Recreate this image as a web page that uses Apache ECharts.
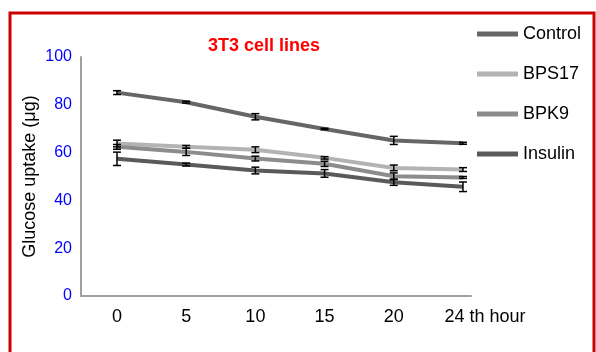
<!DOCTYPE html>
<html>
<head>
<meta charset="utf-8">
<script src="https://cdn.jsdelivr.net/npm/echarts@6/dist/echarts.min.js"></script>
<style>html,body{margin:0;padding:0;background:#fff;}#c{width:596px;height:352px;}</style>
</head>
<body>
<div id="c"></div>
<script>
var categories = ['0', '5', '10', '15', '20', '24 th hour'];
var seriesNames = ['Control', 'BPS17', 'BPK9', 'Insulin'];
var controlValues = [85.1, 81.1, 75.0, 69.9, 65.1, 63.9];
var bps17Values  = [63.8, 62.4, 61.2, 57.8, 53.6, 52.9];
var bpk9Values   = [62.4, 60.3, 57.5, 55.3, 50.1, 49.6];
var insulinValues = [57.4, 55.0, 52.5, 51.3, 47.6, 45.7];
var controlErr = [0.8, 0.4, 1.3, 0.3, 1.7, 0.4];
var bps17Err   = [1.4, 0.6, 1.2, 0.5, 1.2, 0.8];
var bpk9Err    = [1.0, 1.5, 1.0, 1.1, 1.4, 0.4];
var insulinErr = [2.8, 0.6, 1.4, 1.6, 1.3, 2.0];
var yTicks = [0, 20, 40, 60, 80, 100];

var colors = ['#666666', '#b3b3b3', '#8c8c8c', '#5a5a5a'];
var allValues = [controlValues, bps17Values, bpk9Values, insulinValues];
var allErr = [controlErr, bps17Err, bpk9Err, insulinErr];

var chart = echarts.init(document.getElementById('c'), null, {renderer: 'canvas'});
var series = [];
seriesNames.forEach(function (name, s) {
  series.push({
    name: name, type: 'line', symbol: 'none',
    lineStyle: {width: 4, color: colors[s]},
    itemStyle: {color: colors[s]},
    data: allValues[s].map(function (v, i) { return [i, v]; }),
    z: 2 + s
  });
});
var errData = [];
allValues.forEach(function (vals, s) {
  vals.forEach(function (v, i) { errData.push([i, v - allErr[s][i], v + allErr[s][i]]); });
});
series.push({
  type: 'custom', z: 10, silent: true,
  renderItem: function (params, api) {
    var x = api.value(0);
    var lo = api.coord([x, api.value(1)]);
    var hi = api.coord([x, api.value(2)]);
    var w = 4;
    var st = {stroke: '#000', lineWidth: 1.5};
    return {type: 'group', children: [
      {type: 'line', shape: {x1: lo[0], y1: lo[1], x2: hi[0], y2: hi[1]}, style: st},
      {type: 'line', shape: {x1: lo[0] - w, y1: lo[1], x2: lo[0] + w, y2: lo[1]}, style: st},
      {type: 'line', shape: {x1: hi[0] - w, y1: hi[1], x2: hi[0] + w, y2: hi[1]}, style: st}
    ]};
  },
  data: errData
});

chart.setOption({
  animation: false,
  backgroundColor: '#ffffff',
  title: {
    text: '3T3 cell lines', left: 203, top: 32,
    textStyle: {color: '#ff0000', fontWeight: 'bold', fontSize: 18, fontFamily: 'Liberation Sans'}
  },
  legend: {
    orient: 'vertical', left: 472, top: 19, itemGap: 20,
    itemWidth: 41, itemHeight: 5, icon: 'rect',
    data: seriesNames,
    textStyle: {color: '#000', fontSize: 18, lineHeight: 20, fontFamily: 'Liberation Sans'}
  },
  grid: {left: 81, right: 125, top: 57, bottom: 56},
  xAxis: {
    type: 'value', min: -0.52, max: 5.116,
    splitLine: {show: false},
    axisLine: {show: true, onZero: false, lineStyle: {color: '#a0a0a0', width: 2}},
    axisTick: {show: false},
    axisLabel: {
      customValues: categories.map(function (c, i) { return i; }),
      margin: 12,
      fontSize: 18, color: '#000', fontFamily: 'Liberation Sans',
      formatter: function (v) {
        var i = Math.round(v);
        if (i === categories.length - 1) return '{last|' + categories[i] + '}';
        return categories[i];
      },
      rich: {last: {padding: [0, 0, 0, 44], fontSize: 18, color: '#000', fontFamily: 'Liberation Sans'}}
    }
  },
  yAxis: {
    type: 'value', min: yTicks[0], max: yTicks[yTicks.length - 1], interval: 20,
    name: 'Glucose uptake (μg)', nameLocation: 'middle', nameGap: 42, nameMoveOverlap: false,
    nameTextStyle: {color: '#000', fontSize: 18, fontFamily: 'Liberation Sans'},
    splitLine: {show: false},
    axisLine: {show: true, onZero: false, lineStyle: {color: '#a0a0a0', width: 2}},
    axisTick: {show: false},
    axisLabel: {color: '#0000ff', fontSize: 16, margin: 9, fontFamily: 'Liberation Sans'}
  },
  graphic: [{
    type: 'rect', z: 100, silent: true,
    shape: {x: 10, y: 13, width: 584, height: 360},
    style: {fill: 'none', stroke: '#cc0000', lineWidth: 3}
  }],
  series: series
});
</script>
</body>
</html>
